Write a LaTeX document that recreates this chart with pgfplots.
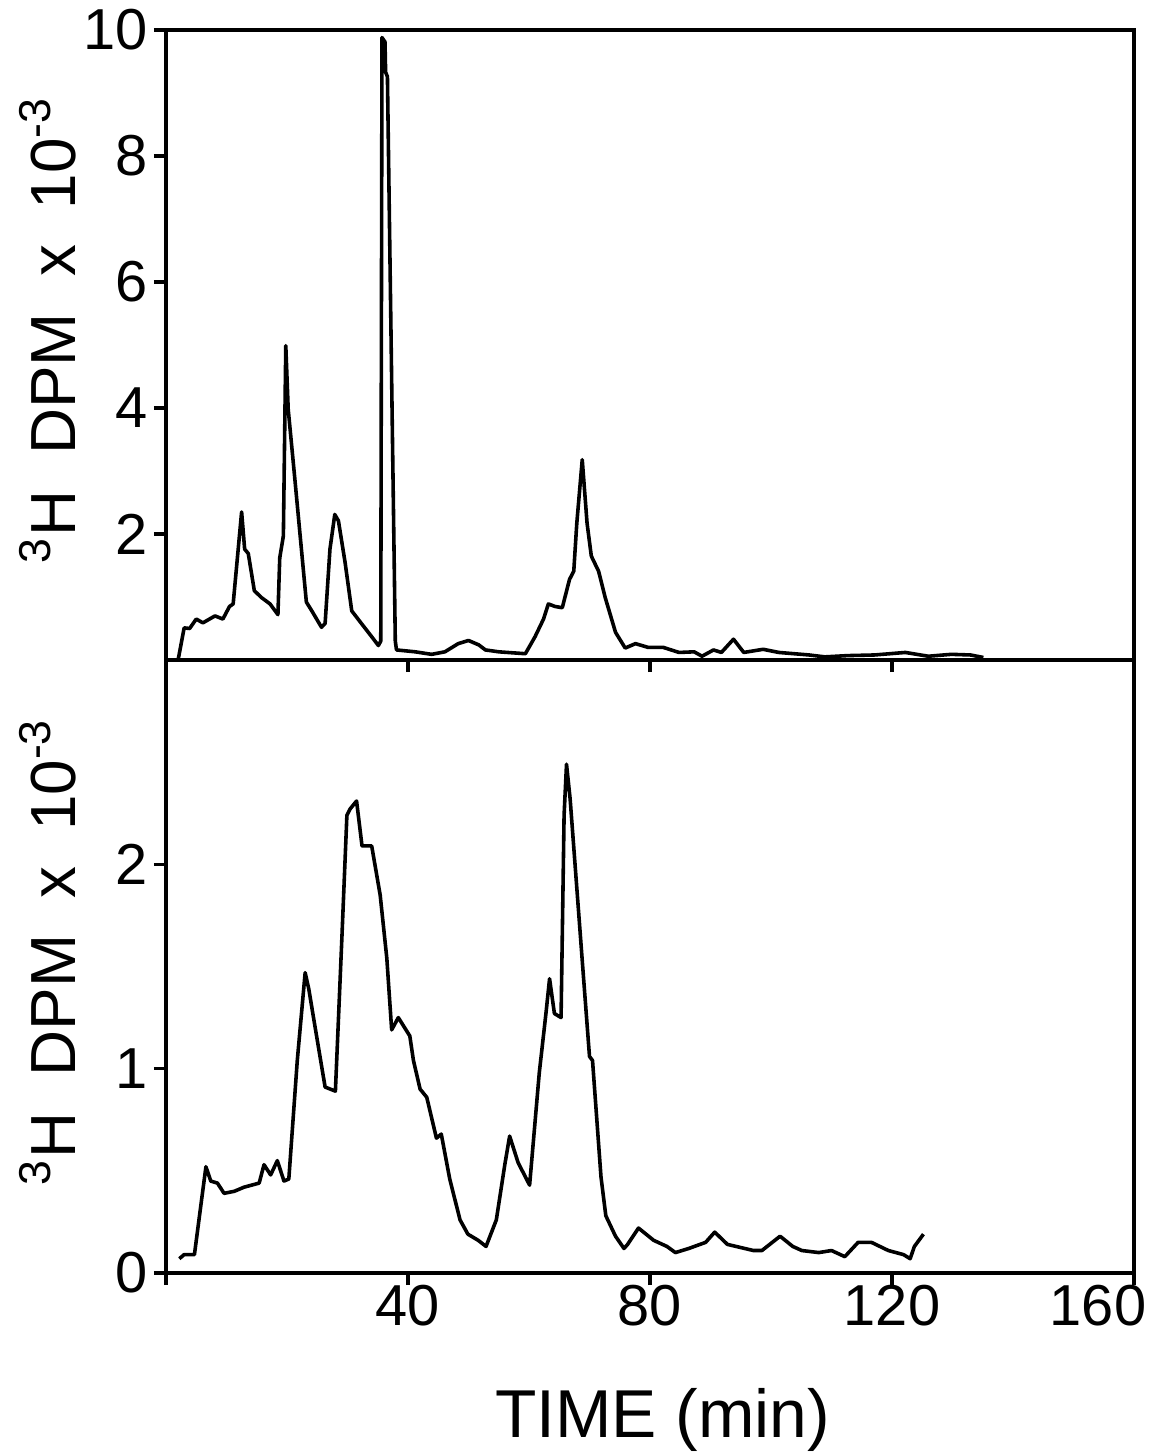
\documentclass[border=0pt]{standalone}
\usepackage{fontspec}
\setmainfont{Liberation Sans}
\usepackage{pgfplots}
\pgfplotsset{compat=1.18}

\newcommand{\dpmlabel}{\textsuperscript{3}H\hspace{9bp}DPM\hspace{9bp}x\hspace{9bp}10\textsuperscript{-3}}

\pgfplotsset{
  panel/.style={
    scale only axis,
    width=242bp,
    xmin=0, xmax=160,
    axis line style={line width=0.8pt},
    tick style={line width=0.8pt, black},
    major tick length=3bp,
    tick align=outside,
    xtick pos=bottom, ytick pos=left,
    tick label style={font=\fontsize{14.5}{17}\selectfont},
    yticklabel style={xshift=2bp},
    xticklabel style={yshift=3.5bp},
    /pgf/number format/assume math mode=true,
    every axis y label/.style={at={(axis description cs:-0.122,0.524)}, rotate=90,
      anchor=center, font=\fontsize{16}{19}\selectfont},
  },
  trace/.style={black, line width=0.9pt, line join=round, mark=none},
}

\begin{document}
\begin{tikzpicture}
\begin{axis}[
    panel,
    name=top,
    height=157.5bp,
    ymin=0, ymax=10,
    ytick={2,4,6,8,10},
    xtick={40,80,120},
    xticklabels={},
    ylabel={\dpmlabel},
]
\addplot[trace] coordinates {
 (2.0,0) (3.0,0.51) (3.9,0.50) (5.0,0.65) (6.1,0.59) (8.1,0.70) (9.4,0.65)
 (10.5,0.85) (11.1,0.89) (12.5,2.35) (13.0,1.76) (13.6,1.69) (14.6,1.10)
 (15.8,0.99) (17.2,0.89) (18.5,0.72) (18.8,1.62) (19.4,1.97) (19.8,4.99)
 (20.2,3.98) (21.3,2.87) (23.2,0.92) (24.1,0.78) (25.7,0.52) (26.3,0.58)
 (27.1,1.76) (27.9,2.31) (28.5,2.21) (29.6,1.55) (30.7,0.78) (32.3,0.58)
 (34.0,0.37) (35.1,0.23) (35.5,0.30) (35.7,9.88) (36.2,9.81) (36.3,9.33)
 (36.6,9.26) (37.9,0.30) (38.1,0.16) (41.2,0.13) (43.9,0.09) (46.1,0.13)
 (48.3,0.26) (50.0,0.31) (51.7,0.24) (52.8,0.16) (55.0,0.13) (59.4,0.10)
 (61.0,0.37) (62.4,0.65) (63.2,0.89) (64.3,0.85) (65.5,0.83) (66.7,1.28)
 (67.4,1.41) (67.9,2.17) (68.8,3.18) (69.1,2.80) (69.6,2.17) (70.3,1.65)
 (71.5,1.41) (72.6,0.99) (74.3,0.44) (75.9,0.19) (77.6,0.26) (79.7,0.20)
 (82.2,0.20) (84.8,0.12) (87.3,0.13) (88.6,0.06) (90.5,0.16) (91.8,0.12)
 (93.8,0.33) (95.5,0.12) (98.7,0.17) (101.3,0.12) (106.3,0.08) (108.9,0.05)
 (112.7,0.07) (117.1,0.08) (122.2,0.12) (126.0,0.06) (129.8,0.09) (133.0,0.08)
 (135.1,0.04)
};
\end{axis}

\begin{axis}[
    panel,
    name=bottom,
    at={(top.south west)}, anchor=north west,
    height=153.25bp,
    ymin=0, ymax=3,
    ytick={0,1,2},
    xtick={0,40,80,120},
    xticklabels={,40,80,120},
    extra x ticks={160},
    extra x tick labels={160},
    extra x tick style={xticklabel style={xshift=-9bp}},
    ylabel={\dpmlabel},
    xlabel={TIME (min)},
    every axis x label/.style={at={(axis description cs:0.513,-0.24)}, anchor=center,
      font=\fontsize{17}{20}\selectfont},
]
\addplot[trace] coordinates {
 (2.2,0.07) (3.0,0.09) (4.7,0.09) (5.8,0.34) (6.6,0.52) (7.4,0.45) (8.5,0.44)
 (9.6,0.39) (11.3,0.40) (12.9,0.42) (15.4,0.44) (16.2,0.53) (17.3,0.48)
 (18.4,0.55) (19.5,0.45) (20.3,0.46) (21.7,1.04) (23.0,1.47) (23.6,1.39)
 (25.0,1.14) (26.3,0.91) (28.0,0.89) (29.1,1.66) (29.9,2.24) (30.4,2.27)
 (31.5,2.31) (32.4,2.09) (34.0,2.09) (35.4,1.85) (36.5,1.54) (37.3,1.19)
 (38.4,1.25) (40.3,1.16) (40.9,1.04) (42.0,0.90) (43.1,0.86) (44.7,0.66)
 (45.5,0.68) (46.9,0.46) (48.6,0.26) (49.9,0.19) (51.6,0.16) (52.9,0.13)
 (54.6,0.26) (56.0,0.53) (56.8,0.67) (58.2,0.54) (60.1,0.43) (61.7,0.98)
 (62.8,1.27) (63.4,1.44) (64.2,1.27) (65.3,1.25) (65.8,2.24) (66.2,2.49)
 (66.8,2.32) (68.9,1.49) (70.0,1.06) (70.5,1.04) (71.9,0.47) (72.7,0.28)
 (74.3,0.18) (75.7,0.12) (76.3,0.14) (78.1,0.22) (80.6,0.16) (82.8,0.13)
 (84.2,0.10) (86.4,0.12) (89.2,0.15) (90.7,0.20) (92.8,0.14) (97.1,0.11)
 (98.5,0.11) (101.5,0.18) (103.6,0.13) (105.1,0.11) (107.9,0.10) (110.0,0.11)
 (112.2,0.08) (114.4,0.15) (116.6,0.15) (119.4,0.11) (121.9,0.09) (123.0,0.07)
 (123.7,0.13) (125.2,0.19)
};
\end{axis}

% frame the page like the scanned figure
\pgfresetboundingbox
\path[use as bounding box] ([xshift=-41.5bp,yshift=-45bp]bottom.south west)
  rectangle ([xshift=247.75bp,yshift=7.5bp]top.north west);
\end{tikzpicture}
\end{document}
